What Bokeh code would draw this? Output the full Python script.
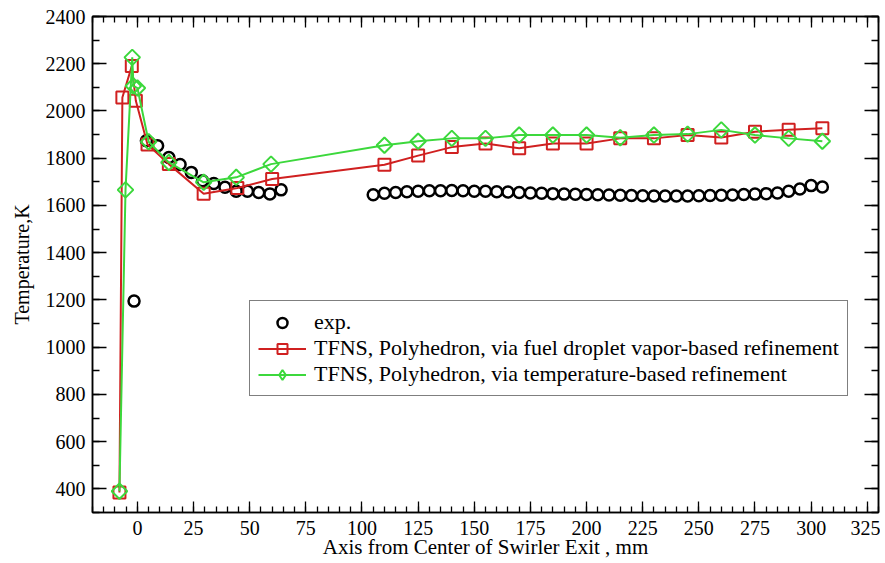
import math
from bokeh.plotting import figure
from bokeh.models import (Range1d, LinearAxis, SingleIntervalTicker, Legend, LegendItem,
                          CustomJSTickFormatter)
from bokeh.embed import file_html
from bokeh.resources import INLINE

# ---------------- data ----------------
exp_x = [-1.5, 4, 9, 14, 19, 24, 29, 34, 39, 44, 49, 54, 59, 64,
         105, 110, 115, 120, 125, 130, 135, 140, 145, 150, 155, 160, 165, 170,
         175, 180, 185, 190, 195, 200, 205, 210, 215, 220, 225, 230, 235, 240,
         245, 250, 255, 260, 265, 270, 275, 280, 285, 290, 295, 300, 305]
exp_T = [1195, 1874, 1853, 1803, 1773, 1740, 1705, 1693, 1677, 1660, 1660, 1655, 1649, 1666,
         1645, 1652, 1655, 1658, 1660, 1662, 1662, 1663, 1662, 1660, 1660, 1658, 1657, 1655,
         1653, 1652, 1650, 1648, 1647, 1646, 1645, 1644, 1643, 1642, 1641, 1640, 1640, 1640,
         1640, 1641, 1642, 1643, 1644, 1646, 1648, 1650, 1653, 1660, 1670, 1684, 1678]

vap_x = [-8, -6.7, -2.5, -0.7, 4.5, 14, 29.5, 44.5, 60,
         110, 125, 140, 155, 170, 185, 200, 215, 230, 245, 260, 275, 290, 305]
vap_T = [385, 2057, 2190, 2043, 1858, 1775, 1650, 1674, 1712,
         1772, 1811, 1847, 1862, 1842, 1862, 1862, 1884, 1884, 1898, 1888, 1912, 1920, 1927]

tmp_x = [-8, -5.3, -2.3, -1.8, 0, 5, 14, 29.5, 44, 59.5,
         110, 125, 140, 155, 170, 185, 200, 215, 230, 245, 260, 275, 290, 305]
tmp_T = [390, 1666, 2227, 2106, 2097, 1870, 1782, 1698, 1719, 1775,
         1855, 1872, 1884, 1884, 1898, 1898, 1898, 1887, 1898, 1902, 1920, 1898, 1884, 1872]

x_label = "Axis from Center of Swirler Exit , mm"
y_label = "Temperature,K"
labels = ["exp.",
          "TFNS, Polyhedron, via fuel droplet vapor-based refinement",
          "TFNS, Polyhedron, via temperature-based refinement"]

RED = "#d02020"
GREEN = "#3cd83c"
FONT = "Liberation Serif"

p = figure(width=880, height=563, x_range=Range1d(-20, 330), y_range=Range1d(300, 2400),
           output_backend="svg", toolbar_location=None,
           min_border_left=92, min_border_right=2, min_border_top=16, min_border_bottom=51)
p.background_fill_color = "white"
p.border_fill_color = "white"
p.outline_line_color = "black"
p.outline_line_width = 1.5
p.xgrid.visible = False
p.ygrid.visible = False

def style_axis(ax, major_len, minor_len):
    ax.axis_line_color = "black"
    ax.axis_line_width = 1.5
    ax.major_tick_line_color = "black"
    ax.minor_tick_line_color = "black"
    ax.major_tick_line_width = 1.3
    ax.minor_tick_line_width = 1.3
    ax.major_tick_in = major_len
    ax.major_tick_out = 0
    ax.minor_tick_in = minor_len
    ax.minor_tick_out = 0
    ax.major_label_text_font = FONT
    ax.major_label_text_color = "black"
    ax.axis_label_text_font = FONT
    ax.axis_label_text_font_style = "normal"
    ax.axis_label_text_color = "black"

p.xaxis.ticker = SingleIntervalTicker(interval=25, num_minor_ticks=5)
p.yaxis.ticker = SingleIntervalTicker(interval=200, num_minor_ticks=2)
style_axis(p.xaxis[0], 11, 6)
style_axis(p.yaxis[0], 14, 7)
p.xaxis.major_label_text_font_size = "20px"
p.yaxis.major_label_text_font_size = "20px"
p.xaxis.axis_label = x_label
p.yaxis.axis_label = y_label
p.xaxis.axis_label_text_font_size = "21px"
p.yaxis.axis_label_text_font_size = "20px"
p.xaxis.major_label_standoff = 8
p.xaxis.axis_label_standoff = -3
p.yaxis.major_label_standoff = 7
p.yaxis.axis_label_standoff = 10

blank = CustomJSTickFormatter(code="return ''")
top = LinearAxis(ticker=SingleIntervalTicker(interval=25, num_minor_ticks=5), formatter=blank)
style_axis(top, 11, 6)
top.major_label_standoff = 0
p.add_layout(top, "above")
right = LinearAxis(ticker=SingleIntervalTicker(interval=200, num_minor_ticks=2), formatter=blank)
style_axis(right, 14, 7)
right.major_label_standoff = 0
p.add_layout(right, "right")

r_exp = p.scatter(exp_x, exp_T, marker="circle", size=11, fill_color=None,
                  line_color="black", line_width=2.5)
r_vl = p.line(vap_x, vap_T, line_color=RED, line_width=2)
r_vs = p.scatter(vap_x, vap_T, marker="square", size=12, fill_color=None,
                 line_color=RED, line_width=2)
r_tl = p.line(tmp_x, tmp_T, line_color=GREEN, line_width=2)
r_ts = p.scatter(tmp_x, tmp_T, marker="square", angle=math.pi / 4, size=11, fill_color=None,
                 line_color=GREEN, line_width=2)
# legend swatch only (hidden in the plot) so that the legend shows a diamond
r_tk = p.scatter(tmp_x, tmp_T, marker="diamond", size=17, fill_color=None,
                 line_color=GREEN, line_width=2, visible=False)

legend = Legend(items=[LegendItem(label=labels[0], renderers=[r_exp]),
                       LegendItem(label=labels[1], renderers=[r_vl, r_vs]),
                       LegendItem(label=labels[2], renderers=[r_tl, r_tk])],
                location=(157, 116))
legend.click_policy = "none"
legend.label_text_font = FONT
legend.label_text_font_size = "22px"
legend.label_text_color = "black"
legend.label_height = 20
legend.glyph_height = 25
legend.glyph_width = 48
legend.label_standoff = 8
legend.spacing = 0
legend.padding = 8
legend.margin = 0
legend.border_line_color = "black"
legend.border_line_width = 1.2
legend.background_fill_alpha = 1.0
p.add_layout(legend, "center")

open("out.html", "w").write(file_html(p, INLINE))
